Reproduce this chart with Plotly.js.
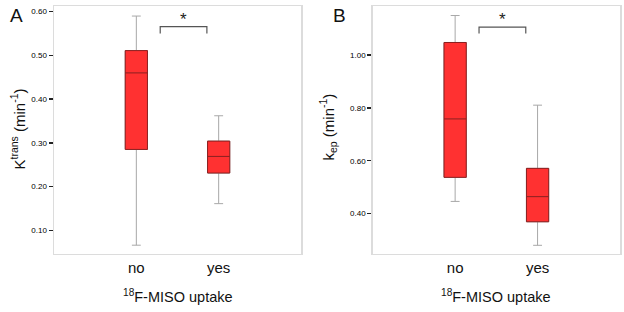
<!DOCTYPE html>
<html>
<head>
<meta charset="utf-8">
<script src="https://cdn.plot.ly/plotly-3.0.1.min.js"></script>
<style>html,body{margin:0;padding:0;background:#fff;}#chart{width:624px;height:312px;}</style>
</head>
<body>
<div id="chart"></div>
<script>
// ---- data ----
const categories = ['no', 'yes'];
const catPos = [0, 1];

// Panel A: Ktrans (min^-1)
const ktransLower  = [0.066, 0.161];
const ktransQ1     = [0.285, 0.231];
const ktransMedian = [0.460, 0.269];
const ktransQ3     = [0.511, 0.304];
const ktransUpper  = [0.590, 0.362];
const ktransTicks  = [0.10, 0.20, 0.30, 0.40, 0.50, 0.60];

// Panel B: kep (min^-1)
const kepLower  = [0.446, 0.280];
const kepQ1     = [0.537, 0.369];
const kepMedian = [0.758, 0.464];
const kepQ3     = [1.047, 0.571];
const kepUpper  = [1.149, 0.810];
const kepTicks  = [0.40, 0.60, 0.80, 1.00];

// ---- styling ----
const FONT = 'Liberation Sans, Arial, Helvetica, sans-serif';
const FILL = '#ff3131';
const EDGE = '#8a2020';
const WHISK = '#a8a8a8';
const FRAME = '#dcdcdc';

function boxPair(xa, ya, lower, q1, med, q3, upper) {
  // whiskers (grey) + box body
  const whisk = {
    type: 'box', xaxis: xa, yaxis: ya, x: catPos,
    q1: q1, median: med, q3: q3, lowerfence: lower, upperfence: upper,
    width: 0.27, whiskerwidth: 0.4, fillcolor: FILL,
    line: {color: WHISK, width: 1}, boxpoints: false, hoverinfo: 'skip', showlegend: false
  };
  // box outline and median (dark red), no whiskers
  const body = {
    type: 'box', xaxis: xa, yaxis: ya, x: catPos,
    q1: q1, median: med, q3: q3, lowerfence: q1, upperfence: q3,
    width: 0.27, whiskerwidth: 0, fillcolor: FILL,
    line: {color: EDGE, width: 1}, boxpoints: false, hoverinfo: 'skip', showlegend: false
  };
  return [whisk, body];
}

function bracket(xa, ya, yTop, drop) {
  const xl = catPos[0] + 0.29, xr = catPos[1] - 0.143;
  return {
    type: 'scatter', mode: 'lines', xaxis: xa, yaxis: ya,
    x: [xl, xl, xr, xr], y: [yTop - drop, yTop, yTop, yTop - drop],
    line: {color: '#555555', width: 1.2}, hoverinfo: 'skip', showlegend: false
  };
}

const traces = [
  ...boxPair('x', 'y', ktransLower, ktransQ1, ktransMedian, ktransQ3, ktransUpper),
  ...boxPair('x2', 'y2', kepLower, kepQ1, kepMedian, kepQ3, kepUpper),
  bracket('x', 'y', 0.566, 0.016),
  bracket('x2', 'y2', 1.105, 0.024)
];

const yTop = 1 - 6 / 312, yBot = 1 - 253.5 / 312;

function xAxis(domain, anchor) {
  return {
    domain: domain, anchor: anchor, range: [-1, 2], type: 'linear',
    tickmode: 'array', tickvals: catPos, ticktext: categories,
    ticks: '', showgrid: false, zeroline: false,
    showline: true, mirror: true, linecolor: FRAME, linewidth: 1.5,
    tickfont: {family: FONT, size: 15, color: '#111'}, fixedrange: true
  };
}
function yAxis(range, ticks, anchor) {
  return {
    domain: [yBot, yTop], anchor: anchor, range: range,
    tickmode: 'array', tickvals: ticks, ticktext: ticks.map(v => v.toFixed(2)),
    ticks: 'outside', ticklen: 4, tickwidth: 1.6, tickcolor: '#222',
    showgrid: false, zeroline: false,
    showline: true, mirror: true, linecolor: FRAME, linewidth: 1.5,
    tickfont: {family: FONT, size: 8, color: '#000'}, fixedrange: true
  };
}

const layout = {
  width: 624, height: 312,
  margin: {l: 0, r: 0, t: 0, b: 0, pad: 0},
  paper_bgcolor: '#fff', plot_bgcolor: '#fff',
  boxmode: 'overlay', showlegend: false,
  xaxis: xAxis([54 / 624, 301 / 624], 'y'),
  yaxis: yAxis([0.047, 0.613], ktransTicks, 'x'),
  xaxis2: xAxis([372.7 / 624, 620 / 624], 'y2'),
  yaxis2: yAxis([0.249, 1.185], kepTicks, 'x2'),
  annotations: [
    {text: 'A', xref: 'paper', yref: 'paper', x: 16 / 624, y: 1 - 15 / 312,
     xanchor: 'center', yanchor: 'middle', showarrow: false, font: {family: FONT, size: 19, color: '#111'}},
    {text: 'B', xref: 'paper', yref: 'paper', x: 339.5 / 624, y: 1 - 15 / 312,
     xanchor: 'center', yanchor: 'middle', showarrow: false, font: {family: FONT, size: 19, color: '#111'}},
    {text: 'K<sup>trans</sup> (min<sup>-1</sup>)', xref: 'paper', yref: 'paper', x: 17.5 / 624, y: 1 - 129 / 312,
     textangle: -90, xanchor: 'center', yanchor: 'middle', showarrow: false, font: {family: FONT, size: 15, color: '#111'}},
    {text: 'k<sub>ep</sub> (min<sup>-1</sup>)', xref: 'paper', yref: 'paper', x: 327.5 / 624, y: 1 - 127 / 312,
     textangle: -90, xanchor: 'center', yanchor: 'middle', showarrow: false, font: {family: FONT, size: 15, color: '#111'}},
    {text: '<sup>18</sup>F-MISO uptake', xref: 'paper', yref: 'paper', x: 177.5 / 624, y: 1 - 296 / 312,
     xanchor: 'center', yanchor: 'middle', showarrow: false, font: {family: FONT, size: 14.5, color: '#111'}},
    {text: '<sup>18</sup>F-MISO uptake', xref: 'paper', yref: 'paper', x: 496.3 / 624, y: 1 - 296 / 312,
     xanchor: 'center', yanchor: 'middle', showarrow: false, font: {family: FONT, size: 14.5, color: '#111'}},
    {text: '*', xref: 'x', yref: 'y', x: (catPos[0] + 0.29 + catPos[1] - 0.143) / 2, y: 0.566,
     xanchor: 'center', yanchor: 'bottom', yshift: -4, showarrow: false, font: {family: FONT, size: 17, color: '#222'}},
    {text: '*', xref: 'x2', yref: 'y2', x: (catPos[0] + 0.29 + catPos[1] - 0.143) / 2, y: 1.105,
     xanchor: 'center', yanchor: 'bottom', yshift: -4, showarrow: false, font: {family: FONT, size: 17, color: '#222'}}
  ]
};

Plotly.newPlot('chart', traces, layout, {displayModeBar: false, staticPlot: true});
</script>
</body>
</html>
